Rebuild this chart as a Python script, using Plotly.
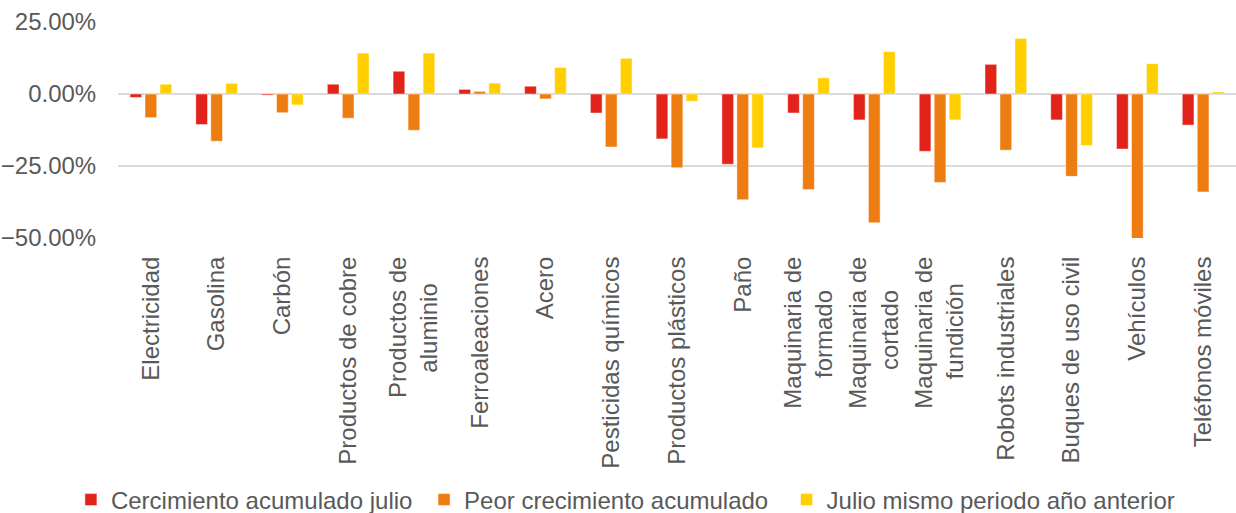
import plotly.graph_objects as go

NB = "\u00a0"
ZW = "\u200b"
categories = ["Electricidad", "Gasolina", "Carbón", "Productos de cobre", "Productos de<br>aluminio" + NB * 4 + ZW,
              "Ferroaleaciones", "Acero", "Pesticidas químicos", "Productos plásticos", "Paño",
              "Maquinaria de<br>formado" + NB * 5 + ZW, "Maquinaria de<br>cortado" + NB * 5 + ZW,
              "Maquinaria de<br>fundición" + NB * 4 + ZW,
              "Robots industriales", "Buques de uso civil", "Vehículos", "Teléfonos móviles"]

acumulado_julio = [-1.2, -10.6, -0.4, 3.4, 7.9, 1.6, 2.7, -6.6, -15.6, -24.4, -6.6, -9.0, -19.9, 10.3, -9.0, -19.1, -10.8]
peor_acumulado = [-8.2, -16.4, -6.5, -8.4, -12.6, 0.9, -1.7, -18.4, -25.6, -36.7, -33.2, -44.7, -30.7, -19.5, -28.6, -50.5, -34.0]
julio_anterior = [3.4, 3.7, -3.8, 14.2, 14.2, 3.8, 9.2, 12.4, -2.5, -18.7, 5.6, 14.7, -9.0, 19.3, -17.9, 10.5, 0.7]

series_names = ["Cercimiento acumulado julio" + NB + ZW, "Peor crecimiento acumulado" + NB * 2 + ZW,
                "Julio mismo periodo año anterior"]
series_values = [acumulado_julio, peor_acumulado, julio_anterior]
colors = ["#E2231A", "#EE7D11", "#FFCF00"]

fig = go.Figure()
for name, vals, col in zip(series_names, series_values, colors):
    fig.add_trace(go.Bar(
        x=categories, y=[v / 100 for v in vals], name=name,
        marker=dict(color=col, line=dict(color="rgba(255,255,255,0.45)", width=1)),
    ))

fig.update_layout(
    width=1236, height=513,
    margin=dict(l=118, r=0, t=22, b=275, autoexpand=False),
    plot_bgcolor="white", paper_bgcolor="white",
    barmode="group", bargap=0.316, bargroupgap=0.22,
    font=dict(family="Liberation Sans, Arial, sans-serif", color="#595959", size=24),
    legend=dict(orientation="h", xref="container", yref="container", x=0.506, xanchor="center",
                y=13 / 513, yanchor="middle",
                font=dict(size=24, color="#595959"), itemwidth=30, tracegroupgap=0),
    showlegend=True,
)
fig.update_xaxes(tickangle=-90, tickfont=dict(size=24), ticks="outside", ticklen=8,
                 tickcolor="rgba(0,0,0,0)", showgrid=False, showline=False, automargin=False)
fig.update_yaxes(range=[-0.5, 0.25], tickvals=[-0.5, -0.25, 0, 0.25], tickformat=".2%",
                 showgrid=True, gridcolor="#D9D9D9", gridwidth=1.5,
                 zeroline=True, zerolinecolor="#D9D9D9", zerolinewidth=1.5,
                 tickfont=dict(size=24), ticks="outside", ticklen=16, tickcolor="rgba(0,0,0,0)",
                 showline=False, automargin=False)

fig.write_html("out.html", config={"displayModeBar": False},
               post_script="document.body.style.margin='0px';")
